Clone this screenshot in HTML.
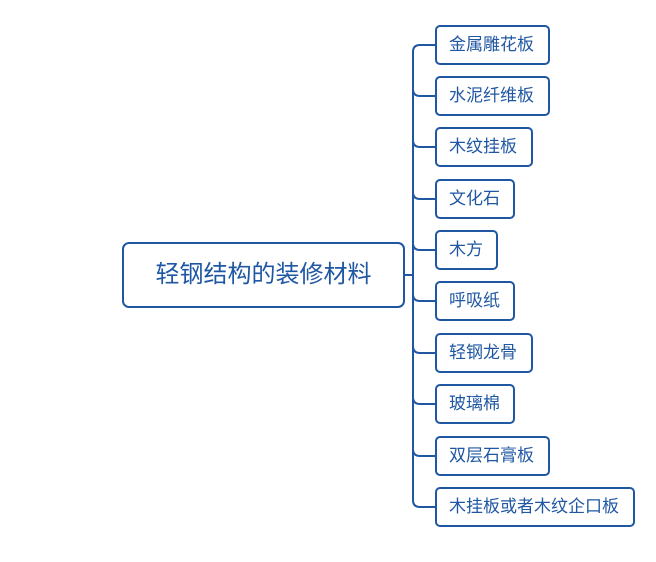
<!DOCTYPE html>
<html><head><meta charset="utf-8"><style>
body{margin:0;background:#fff;width:656px;height:562px;overflow:hidden;position:relative;font-family:"Liberation Sans","Noto Sans CJK SC",sans-serif;}
.b{position:absolute;box-sizing:border-box;border:2px solid #1f57a3;border-radius:5px;color:#1f57a3;background:#fff;}
.c{left:435px;height:40px;font-size:17px;line-height:36px;padding-left:12px;}
.m{left:122px;top:242px;width:283px;height:66px;font-size:24px;line-height:62px;text-align:center;border-radius:7px;border-width:2.5px;}
svg{position:absolute;left:0;top:0}
</style></head><body>
<svg width="656" height="562">
<g fill="none" stroke="#1f57a3" stroke-width="2">
<line x1="404" y1="275" x2="413" y2="275"/>
<path d="M435 45 H420 Q413 45 413 52 V500 Q413 507 420 507 H435"/>
<path d="M413 89 Q413 96 420 96 H435"/>
<path d="M413 140 Q413 147 420 147 H435"/>
<path d="M413 192 Q413 199 420 199 H435"/>
<path d="M413 243 Q413 250 420 250 H435"/>
<path d="M413 294 Q413 301 420 301 H435"/>
<path d="M413 346 Q413 353 420 353 H435"/>
<path d="M413 397 Q413 404 420 404 H435"/>
<path d="M413 449 Q413 456 420 456 H435"/>
</g></svg>
<div class="b m">轻钢结构的装修材料</div>
<div class="b c" style="top:25px;width:115px">金属雕花板</div>
<div class="b c" style="top:76px;width:115px">水泥纤维板</div>
<div class="b c" style="top:127px;width:98px">木纹挂板</div>
<div class="b c" style="top:179px;width:80px">文化石</div>
<div class="b c" style="top:230px;width:63px">木方</div>
<div class="b c" style="top:281px;width:80px">呼吸纸</div>
<div class="b c" style="top:333px;width:98px">轻钢龙骨</div>
<div class="b c" style="top:384px;width:80px">玻璃棉</div>
<div class="b c" style="top:436px;width:115px">双层石膏板</div>
<div class="b c" style="top:487px;width:200px">木挂板或者木纹企口板</div>
</body></html>
